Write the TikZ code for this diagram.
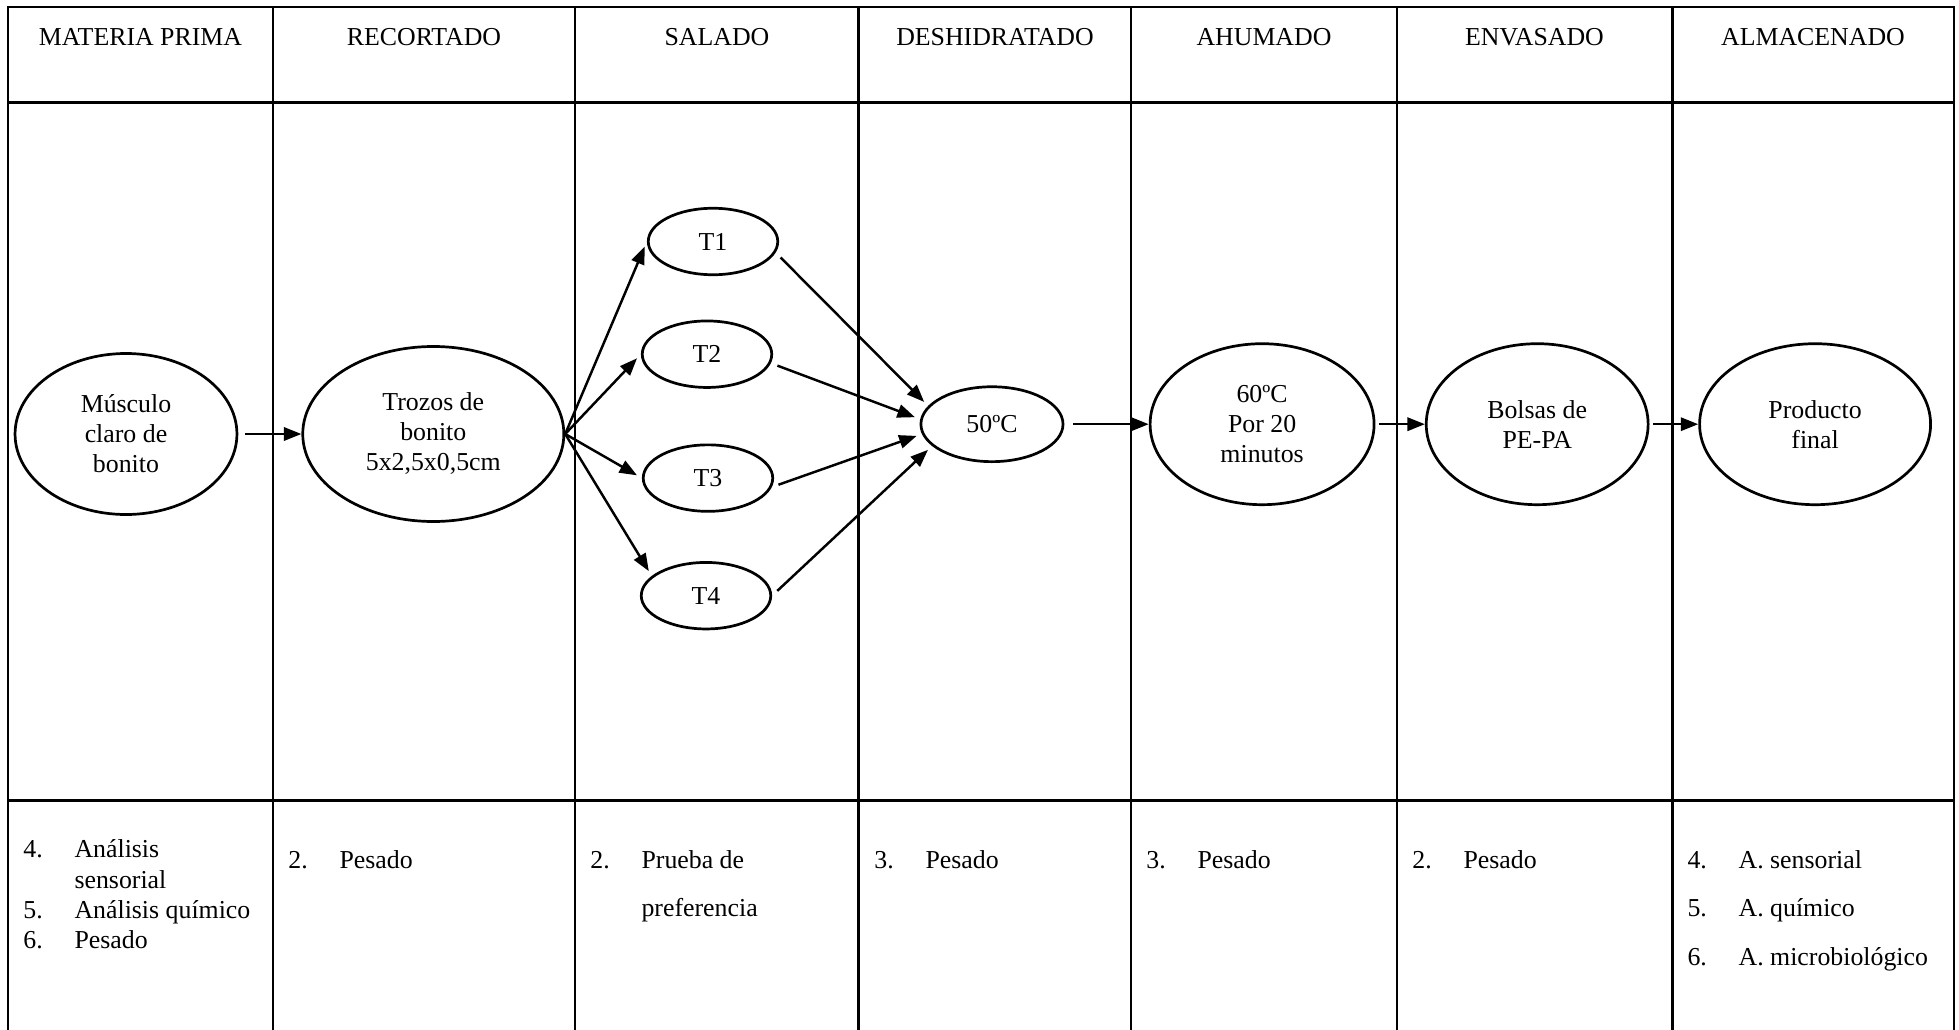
\documentclass[tikz,border=0pt]{standalone}
\usepackage{fontspec}
\setmainfont{Liberation Serif}
\usetikzlibrary{arrows.meta,shapes.geometric}
\tikzset{
  flow/lane/.style={draw=black, line width=1.2pt},
  flow/head/.style={anchor=base, inner sep=0pt, font=\fontsize{10.5}{12.2}\selectfont},
  flow/stage/.style={
    ellipse,
    draw=black,
    line width=1.1pt,
    align=center,
    inner sep=0pt,
    font=\fontsize{10.5}{12.2}\selectfont
  },
  flow/arrow/.style={-{Triangle[length=0.25cm,width=0.19cm]}, line width=1pt, draw=black},
  flow/list/.style={anchor=base west, inner sep=0pt, font=\fontsize{10.5}{12.2}\selectfont}
}

\begin{document}
\begin{tikzpicture}[x=1cm,y=1cm]
  \useasboundingbox (0,0) rectangle (27.986,-14.714);
  % table frame
  \draw[flow/lane] (0.114,-14.714) |- (27.914,-0.1) -- (27.914,-14.714);
  \foreach \x in {3.9,8.214,12.271,16.157,19.957,23.886}{\draw[flow/lane] (\x,-0.1) -- (\x,-14.714);}
  \draw[flow/lane] (0.114,-1.471) -- (27.914,-1.471);
  \draw[flow/lane] (0.114,-11.43) -- (27.914,-11.43);
  % headers
  \node[flow/head] (hmat) at (2.007,-0.643) {MATERIA PRIMA};
  \node[flow/head] (hrec) at (6.057,-0.643) {RECORTADO};
  \node[flow/head] (hsal) at (10.243,-0.643) {SALADO};
  \node[flow/head] (hdes) at (14.214,-0.643) {DESHIDRATADO};
  \node[flow/head] (hahu) at (18.057,-0.643) {AHUMADO};
  \node[flow/head] (henv) at (21.921,-0.643) {ENVASADO};
  \node[flow/head] (halm) at (25.9,-0.643) {ALMACENADO};
  % process
  \node[flow/stage,minimum width=3.17cm,minimum height=2.3cm] (musculo) at (1.8,-6.2) {Músculo\\claro de\\bonito};
  \node[flow/stage,minimum width=3.73cm,minimum height=2.5cm] (trozos) at (6.19,-6.2) {Trozos de\\bonito\\5x2,5x0,5cm};
  \node[flow/stage,minimum width=1.85cm,minimum height=0.95cm] (t1) at (10.186,-3.45) {T1};
  \node[flow/stage,minimum width=1.85cm,minimum height=0.95cm] (t2) at (10.1,-5.06) {T2};
  \node[flow/stage,minimum width=1.85cm,minimum height=0.95cm] (t3) at (10.114,-6.83) {T3};
  \node[flow/stage,minimum width=1.85cm,minimum height=0.95cm] (t4) at (10.086,-8.51) {T4};
  \node[flow/stage,minimum width=2.03cm,minimum height=1.07cm] (deshid) at (14.171,-6.06) {50ºC};
  \node[flow/stage,minimum width=3.2cm,minimum height=2.3cm] (ahum) at (18.03,-6.06) {60ºC\\Por 20\\minutos};
  \node[flow/stage,minimum width=3.17cm,minimum height=2.3cm] (envas) at (21.96,-6.06) {Bolsas de\\PE-PA};
  \node[flow/stage,minimum width=3.3cm,minimum height=2.3cm] (final) at (25.93,-6.06) {Producto\\final};
  \draw[flow/arrow,shorten <=0.1cm] (musculo) -- (trozos);
  \foreach \t/\a in {t1/west,t2/west,t3/west,t4/160}{\draw[flow/arrow,shorten >=0.08cm] (trozos.east) -- (\t.\a);}
  \foreach \t/\a/\b in {t1/350/164,t2/352/176,t3/352/188,t4/0/200}{\draw[flow/arrow,shorten <=0.1cm,shorten >=0.08cm] (\t.\a) -- (deshid.\b);}
  \draw[flow/arrow,shorten <=0.13cm] (deshid) -- (ahum);
  \draw[flow/arrow,shorten <=0.05cm] (ahum) -- (envas);
  \draw[flow/arrow,shorten <=0.05cm] (envas) -- (final);
  % observations
  \node[flow/list] (obs1) at (0.328,-12.257) {\begin{tabular}[t]{@{}p{0.73cm}@{}l@{}}4. & Análisis\\ & sensorial\\ 5. & Análisis químico\\ 6. & Pesado\end{tabular}};
  \node[flow/list] (obs2) at (4.114,-12.4) {\begin{tabular}[t]{@{}p{0.73cm}@{}l@{}}2. & Pesado\end{tabular}};
  \node[flow/list] (obs3) at (8.428,-12.4) {\renewcommand{\arraystretch}{1.63}\begin{tabular}[t]{@{}p{0.73cm}@{}l@{}}2. & Prueba de\\ & preferencia\end{tabular}};
  \node[flow/list] (obs4) at (12.485,-12.4) {\begin{tabular}[t]{@{}p{0.73cm}@{}l@{}}3. & Pesado\end{tabular}};
  \node[flow/list] (obs5) at (16.371,-12.4) {\begin{tabular}[t]{@{}p{0.73cm}@{}l@{}}3. & Pesado\end{tabular}};
  \node[flow/list] (obs6) at (20.171,-12.4) {\begin{tabular}[t]{@{}p{0.73cm}@{}l@{}}2. & Pesado\end{tabular}};
  \node[flow/list] (obs7) at (24.1,-12.4) {\renewcommand{\arraystretch}{1.63}\begin{tabular}[t]{@{}p{0.73cm}@{}l@{}}4. & A. sensorial\\ 5. & A. químico\\ 6. & A. microbiológico\end{tabular}};
\end{tikzpicture}
\end{document}
